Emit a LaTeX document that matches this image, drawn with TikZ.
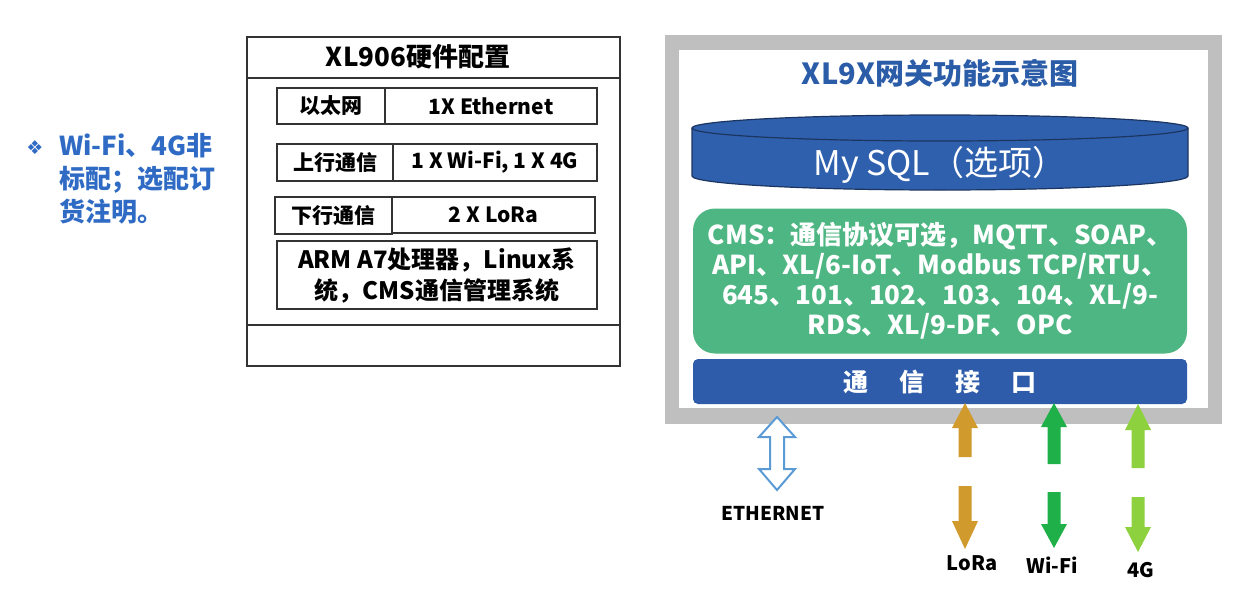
\documentclass[tikz,border=0pt]{standalone}
\usepackage{fontspec}
\setmainfont{Noto Sans CJK SC}
\newfontfamily\djv{DejaVu Sans}
\definecolor{ttlblue}{HTML}{2A5CA8}
\definecolor{cylblue}{HTML}{2F60AE}
\definecolor{cyledge}{HTML}{1C3560}
\definecolor{barblue}{HTML}{2E5CAA}
\definecolor{cmsgreen}{HTML}{4DB682}
\definecolor{framegray}{HTML}{BFBFBF}
\definecolor{ethblue}{HTML}{5B9BD5}
\definecolor{loracol}{HTML}{D09A2C}
\definecolor{wificol}{HTML}{1FB04A}
\definecolor{gcol}{HTML}{8ED13E}
\definecolor{notecol}{HTML}{2F6BC4}
\definecolor{boxline}{HTML}{333333}
\begin{document}
\begin{tikzpicture}[x=1pt,y=-1pt,
  cell/.style={draw=boxline,line width=1.3pt,rectangle,inner sep=0pt,font=\bfseries\fontsize{21}{24}\selectfont},
  lbl/.style={font=\bfseries\fontsize{20}{22}\selectfont,text=black,inner sep=0pt}]
\useasboundingbox (0,0) rectangle (1240,600);
\fill[white] (0,0) rectangle (1240,600);

% ---- left note
\node[text=notecol,font=\djv\fontsize{19}{19}\selectfont,inner sep=0pt] (bul) at (35,148) {❖};
\node[text=notecol,font=\bfseries\fontsize{26}{33}\selectfont,align=left,anchor=north west,inner sep=0pt] (note) at (59,133) {Wi-Fi、4G非\\标配；选配订\\货注明。};

% ---- left hardware box
\draw[boxline,line width=1.3pt] (247,37) rectangle (620,366);
\draw[boxline,line width=1.3pt] (247,78) -- (620,78);
\draw[boxline,line width=2pt] (247,325) -- (620,325);
\node[font=\bfseries\fontsize{26}{28}\selectfont,inner sep=0pt] (hwt) at (418,57) {XL906硬件配置};

\node[cell,minimum width=108pt,minimum height=36pt] (c1a) at (331,106) {以太网};
\node[cell,minimum width=212pt,minimum height=36pt] (c1b) at (491,106) {1X Ethernet};
\node[cell,minimum width=116pt,minimum height=37pt] (c2a) at (335,162.5) {上行通信};
\node[cell,minimum width=204pt,minimum height=37pt] (c2b) at (495,162.5) {1 X Wi-Fi, 1 X 4G};
\node[cell,minimum width=117pt,minimum height=37pt] (c3a) at (333.5,215.5) {下行通信};
\node[cell,minimum width=203pt,minimum height=36pt] (c3b) at (493.5,215) {2 X LoRa};
\node[cell,minimum width=320pt,minimum height=68pt,align=center,font=\bfseries\fontsize{24}{31}\selectfont] (c4) at (437,275) {ARM A7处理器，Linux系\\统，CMS通信管理系统};

% ---- right gateway panel
\fill[framegray] (665,35) rectangle (1222,424);
\fill[white] (679,50) rectangle (1208,408);
\node[text=ttlblue,font=\bfseries\fontsize{29}{30}\selectfont,inner sep=0pt] (gwt) at (940,73) {XL9X网关功能示意图};

% cylinder
\fill[cylblue] (692,128) -- (692,176) arc[start angle=180,end angle=360,x radius=248pt,y radius=14pt] -- (1188,128) -- cycle;
\draw[cyledge,line width=1.2pt] (692,128) -- (692,176) arc[start angle=180,end angle=360,x radius=248pt,y radius=14pt] -- (1188,128);
\draw[cyledge,line width=1.2pt,fill=cylblue] (940,128) ellipse[x radius=248pt,y radius=13pt];
\node[text=white,font=\fontsize{34}{36}\selectfont,inner sep=0pt] (sql) at (940,165) {My SQL（选项）};

% CMS box
\node[fill=cmsgreen,rounded corners=22pt,minimum width=494pt,minimum height=145pt,inner sep=0pt,
      text=white,align=center,font=\bfseries\fontsize{26}{30}\selectfont] (cms) at (940,281)
  {CMS：通信协议可选，MQTT、SOAP、\\API、XL/6-IoT、Modbus TCP/RTU、\\645、101、102、103、104、XL/9-\\RDS、XL/9-DF、OPC};

% interface bar
\node[fill=barblue,rounded corners=5pt,minimum width=494pt,minimum height=45pt,inner sep=0pt,
      text=white,font=\bfseries\fontsize{25}{26}\selectfont] (bar) at (940,381.5)
  {通\hspace{31pt}信\hspace{31pt}接\hspace{31pt}口};

% Ethernet hollow double arrow
\coordinate (ethT) at (777,417);
\coordinate (ethB) at (777,490);
\draw[ethblue,line width=2pt,fill=white,line join=miter]
  (ethT) -- (795,437) -- (784,437) -- (784,469) -- (795,469) -- (ethB)
  -- (759,469) -- (770,469) -- (770,437) -- (759,437) -- cycle;
\node[lbl,font=\bfseries\fontsize{19}{20}\selectfont] (ethl) at (773,513) {ETHERNET};

% LoRa
\fill[loracol] (965,403) -- (978,428) -- (971.5,428) -- (971.5,457) -- (958.5,457) -- (958.5,428) -- (952,428) -- cycle;
\fill[loracol] (958.5,486) -- (971.5,486) -- (971.5,521) -- (978,521) -- (965,549) -- (952,521) -- (958.5,521) -- cycle;
\node[lbl] (loral) at (972,563) {LoRa};

% Wi-Fi
\fill[wificol] (1054,403) -- (1067,427) -- (1060.5,427) -- (1060.5,464) -- (1047.5,464) -- (1047.5,427) -- (1041,427) -- cycle;
\fill[wificol] (1047.5,492) -- (1060.5,492) -- (1060.5,524) -- (1067,524) -- (1054,548) -- (1041,524) -- (1047.5,524) -- cycle;
\node[lbl] (wifil) at (1052,565) {Wi-Fi};

% 4G
\fill[gcol] (1138,404) -- (1151,430) -- (1144.5,430) -- (1144.5,468) -- (1131.5,468) -- (1131.5,430) -- (1125,430) -- cycle;
\fill[gcol] (1131.5,497) -- (1144.5,497) -- (1144.5,527) -- (1151,527) -- (1138,552) -- (1125,527) -- (1131.5,527) -- cycle;
\node[lbl] (gl) at (1141,570) {4G};
\end{tikzpicture}
\end{document}
